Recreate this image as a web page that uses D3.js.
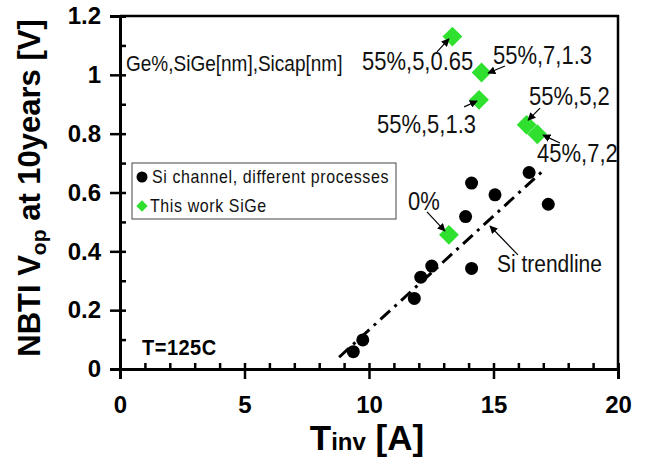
<!DOCTYPE html>
<html>
<head>
<meta charset="utf-8">
<script src="https://cdn.jsdelivr.net/npm/d3@7"></script>
<style>
  body { margin: 0; background: #fff; }
  text { font-family: "Liberation Sans", Arial, sans-serif; }
</style>
</head>
<body>
<div id="chart"></div>
<script>
// values
var siX = [9.37, 9.75, 11.82, 12.08, 12.52, 14.12, 13.88, 14.12, 15.06, 16.43, 17.2];
var siY = [0.059, 0.099, 0.24, 0.312, 0.35, 0.342, 0.518, 0.632, 0.592, 0.668, 0.56];

var sigeX = [13.21, 13.35, 14.52, 14.42, 16.33, 16.76];
var sigeY = [0.456, 1.13, 1.008, 0.915, 0.83, 0.798];
var sigeLabels = ["0%", "55%,5,0.65", "55%,7,1.3", "55%,5,1.3", "55%,5,2", "45%,7,2"];

var trendX = [8.8, 17.0];
var trendY = [0.04, 0.675];

var xTicks = [0, 5, 10, 15, 20];
var yTicks = [0, 0.2, 0.4, 0.6, 0.8, 1, 1.2];

var width = 646;
var height = 461;
var green = "#2fe02f";

var svg = d3.select("#chart").append("svg")
    .attr("width", width)
    .attr("height", height);

svg.append("rect").attr("width", width).attr("height", height).attr("fill", "#fff");

var x = d3.scaleLinear().domain([0, 20]).range([120, 618]);
var y = d3.scaleLinear().domain([0, 1.2]).range([369, 16]);

// frame (top + right)
svg.append("path")
    .attr("d", "M" + x(0) + "," + y(1.2) + "H" + x(20) + "V" + y(0))
    .attr("fill", "none")
    .attr("stroke", "#000")
    .attr("stroke-width", 2.5);

// minor ticks inside, major ticks outside
var xMinor = svg.append("g").attr("transform", "translate(0," + y(0) + ")")
    .call(d3.axisBottom(x).tickValues(d3.range(0, 21, 1)).tickSize(-6).tickFormat(""));
var xMajor = svg.append("g").attr("transform", "translate(0," + y(0) + ")")
    .call(d3.axisBottom(x).tickValues(xTicks).tickSize(10).tickPadding(17).tickFormat(d3.format("d")));
var yMinor = svg.append("g").attr("transform", "translate(" + x(0) + ",0)")
    .call(d3.axisLeft(y).tickValues(d3.range(0, 13).map(function(i) { return i / 10; })).tickSize(-6).tickFormat(""));
var yMajor = svg.append("g").attr("transform", "translate(" + x(0) + ",0)")
    .call(d3.axisLeft(y).tickValues(yTicks).tickSize(10).tickPadding(9).tickFormat(function(d) { return d3.format("")(d); }));

[xMinor, xMajor, yMinor, yMajor].forEach(function(g) {
    g.selectAll("path.domain").attr("stroke", "#000").attr("stroke-width", 3);
    g.selectAll(".tick line").attr("stroke", "#000").attr("stroke-width", 2.5);
    g.selectAll(".tick text")
        .attr("fill", "#000")
        .style("font-size", "24px")
        .style("font-weight", "bold")
        .style("font-family", "'Liberation Sans', Arial, sans-serif");
});

// axis titles
var yl = svg.append("text")
    .attr("transform", "translate(40,188) rotate(-90)")
    .attr("text-anchor", "middle")
    .style("font-size", "31px")
    .style("font-weight", "bold");
yl.append("tspan").text("NBTI V");
yl.append("tspan").attr("dy", 6).style("font-size", "21px").text("op");
yl.append("tspan").attr("dy", -6).text(" at 10years [V]");

var xl = svg.append("text")
    .attr("x", 367).attr("y", 450)
    .attr("text-anchor", "middle")
    .style("font-size", "35px")
    .style("font-weight", "bold");
xl.append("tspan").text("T");
xl.append("tspan").style("font-size", "24px").text("inv");
xl.append("tspan").text(" [A]");

// trendline
svg.append("line")
    .attr("x1", x(trendX[0])).attr("y1", y(trendY[0]))
    .attr("x2", x(trendX[1])).attr("y2", y(trendY[1]))
    .attr("stroke", "#000")
    .attr("stroke-width", 3)
    .attr("stroke-dasharray", "13,6,3,6");

// Si points
svg.append("g").selectAll("circle")
    .data(siX)
    .join("circle")
    .attr("cx", function(d) { return x(d); })
    .attr("cy", function(d, i) { return y(siY[i]); })
    .attr("r", 6.5)
    .attr("fill", "#000");

// SiGe points
var diamond = d3.symbol().type(d3.symbolSquare).size(196);
svg.append("g").selectAll("path")
    .data(sigeX)
    .join("path")
    .attr("d", diamond)
    .attr("transform", function(d, i) { return "translate(" + x(d) + "," + y(sigeY[i]) + ") rotate(45)"; })
    .attr("fill", green);

// arrow marker
svg.append("defs").append("marker")
    .attr("id", "arr")
    .attr("viewBox", "0 0 10 10")
    .attr("refX", 9).attr("refY", 5)
    .attr("markerWidth", 8).attr("markerHeight", 8)
    .attr("markerUnits", "userSpaceOnUse")
    .attr("orient", "auto")
    .append("path")
    .attr("d", "M0,0L10,5L0,10z")
    .attr("fill", "#000");

// annotation layout: text position and arrow tail/head, in data units
var notes = [
    { t: sigeLabels[0], tx: 11.57, ty: 0.540, ax: 12.33, ay: 0.534, bx: 13.05, by: 0.469 },
    { t: sigeLabels[1], tx: 9.72, ty: 1.016, ax: 12.73, ay: 1.078, bx: 13.21, by: 1.122 },
    { t: sigeLabels[2], tx: 14.98, ty: 1.037, ax: 15.46, ay: 1.030, bx: 14.78, by: 1.006 },
    { t: sigeLabels[3], tx: 10.32, ty: 0.802, ax: 13.82, ay: 0.891, bx: 14.34, by: 0.911 },
    { t: sigeLabels[4], tx: 16.43, ty: 0.897, ax: 16.87, ay: 0.887, bx: 16.39, by: 0.846 },
    { t: sigeLabels[5], tx: 16.75, ty: 0.704, ax: 17.67, ay: 0.768, bx: 16.99, by: 0.795 },
    { t: "Si trendline", tx: 15.14, ty: 0.330, ax: 15.98, ay: 0.388, bx: 14.86, by: 0.486 }
];

svg.append("g").selectAll("line")
    .data(notes)
    .join("line")
    .attr("x1", function(d) { return x(d.ax); })
    .attr("y1", function(d) { return y(d.ay); })
    .attr("x2", function(d) { return x(d.bx); })
    .attr("y2", function(d) { return y(d.by); })
    .attr("stroke", "#000")
    .attr("stroke-width", 1.2)
    .attr("marker-end", "url(#arr)");

svg.append("g").selectAll("text")
    .data(notes)
    .join("text")
    .attr("transform", function(d) { return "translate(" + x(d.tx) + "," + y(d.ty) + ") scale(1,1.15)"; })
    .style("font-size", function(d, i) { return i == 6 ? "21px" : "22px"; })
    .attr("fill", "#111")
    .text(function(d) { return d.t; });

svg.append("text")
    .attr("transform", "translate(126,71) scale(1,1.15)")
    .style("font-size", "19px")
    .attr("fill", "#111")
    .text("Ge%,SiGe[nm],Sicap[nm]");

svg.append("text")
    .attr("transform", "translate(142,355) scale(1,1.1)")
    .style("font-size", "20px")
    .style("font-weight", "bold")
    .style("letter-spacing", "0.5px")
    .text("T=125C");

// legend
var leg = svg.append("g");
leg.append("rect")
    .attr("x", 132).attr("y", 163)
    .attr("width", 264).attr("height", 56)
    .attr("fill", "#fff")
    .attr("stroke", "#444")
    .attr("stroke-width", 1);
leg.append("circle").attr("cx", 142).attr("cy", 177).attr("r", 5.5).attr("fill", "#000");
leg.append("path")
    .attr("d", d3.symbol().type(d3.symbolSquare).size(64))
    .attr("transform", "translate(142,206) rotate(45)")
    .attr("fill", green);
leg.append("text")
    .attr("transform", "translate(152,183) scale(1,1.15)")
    .style("font-size", "16px")
    .style("letter-spacing", "0.6px")
    .attr("fill", "#111")
    .text("Si channel, different processes");
leg.append("text")
    .attr("transform", "translate(150,212) scale(1,1.15)")
    .style("font-size", "16px")
    .style("letter-spacing", "0.6px")
    .attr("fill", "#111")
    .text("This work SiGe");
</script>
</body>
</html>
